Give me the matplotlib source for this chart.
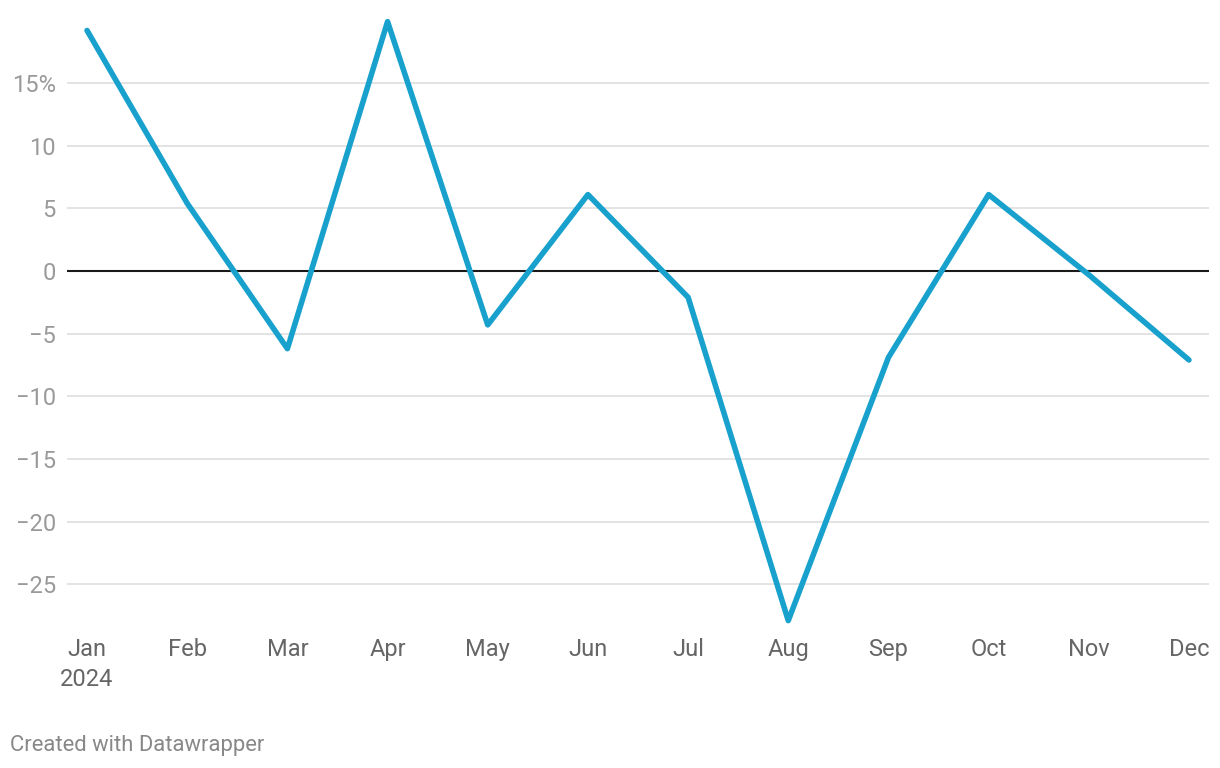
import matplotlib
matplotlib.use("Agg")
import matplotlib.pyplot as plt

plt.rcParams["font.family"] = ["Roboto", "DejaVu Sans"]

months = ["Jan\n2024", "Feb", "Mar", "Apr", "May", "Jun", "Jul", "Aug", "Sep", "Oct", "Nov", "Dec"]
values = [19.2, 5.4, -6.2, 19.9, -4.3, 6.1, -2.1, -27.9, -6.9, 6.1, -0.3, -7.1]
y_ticks = [-25, -20, -15, -10, -5, 0, 5, 10, 15]
y_labels = ["\u221225", "\u221220", "\u221215", "\u221210", "\u22125", "0", "5", "10", "15%"]

fig = plt.figure(figsize=(12.2, 7.68), dpi=100)
ax = fig.add_axes([67 / 1220, 1 - 630.6 / 768, (1209 - 67) / 1220, (630.6 - 15.4) / 768])

x = list(range(len(months)))
for t in y_ticks:
    if t == 0:
        continue
    ax.axhline(t, color="#e3e3e3", lw=1.4, zorder=1)
ax.axhline(0, color="#1a1a1a", lw=1.5, zorder=2)
ax.plot(x, values, color="#18a1cd", lw=4.0, solid_capstyle="round", zorder=3)

ax.set_xlim(-0.2, 11.2)
ax.set_ylim(-28.7, 20.4)
ax.set_xticks(x)
ax.set_xticklabels(months, fontsize=17, color="#666666", linespacing=1.35)
ax.set_yticks(y_ticks)
ax.set_yticklabels(y_labels, fontsize=17, color="#9a9a9a")
ax.tick_params(axis="both", length=0)
ax.tick_params(axis="x", pad=5.5)
ax.tick_params(axis="y", pad=8)
for s in ax.spines.values():
    s.set_visible(False)

fig.text(10 / 1220, 1 - 745 / 768, "Created with Datawrapper", fontsize=15.8, color="#888888",
         ha="left", va="center")

fig.savefig("out.png", dpi=100)
